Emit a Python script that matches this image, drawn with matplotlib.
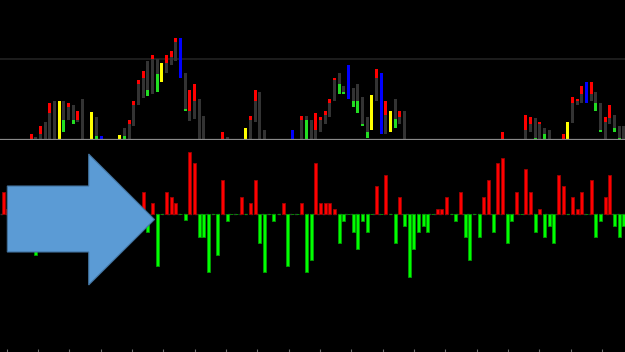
import matplotlib
matplotlib.use("Agg")
import matplotlib.pyplot as plt
import numpy as np
from matplotlib.patches import Polygon

# top panel: only the bars that are drawn (index, high, low, colour code, coloured length)
top_idx = [6, 7, 8, 9, 10, 11, 12, 13, 14, 15, 16, 17, 18, 19, 20, 21, 24, 25, 26, 27,
           28, 29, 30, 31, 32, 33, 34, 35, 36, 37, 38, 39, 40, 41, 42, 43, 47, 48, 52, 53,
           54, 55, 56, 60, 61, 62, 64, 65, 66, 67, 68, 69, 70, 71, 72, 73, 74, 75, 76, 77,
           78, 79, 80, 81, 82, 83, 84, 85, 86, 107, 112, 113, 114, 115, 116, 117, 120, 121, 122, 123,
           124, 125, 126, 127, 128, 129, 130, 131, 132, 133]
top_hi = [6.3, 2.7, 14, 18, 37, 39, 39, 39, 37, 35, 29, 41, 1, 27.7, 23.3, 4, 1, 4.7, 12, 20,
          39, 60, 69.3, 79, 84.7, 81, 77, 84.7, 88.7, 102, 102, 67.3, 50, 56, 41, 23.7, 8, 2.7, 12, 23.7,
          50, 48.3, 10, 1, 0.7, 10, 23.7, 23.7, 20, 27.3, 23.3, 29, 40.7, 62, 67.3, 54, 75, 52, 56, 43,
          23.3, 44.7, 71.3, 67.3, 39, 29, 41, 29, 29, 8, 25.3, 23.3, 21.7, 18, 12, 10, 6, 18, 43, 41,
          54, 58, 58, 48.3, 37, 23.3, 35, 25.3, 14, 14]
top_lo = [0, 0, 0, 0, 0, 0, 0, 8, 20, 15.7, 18, 0, 0, 0, 0, 0, 0, 0, 0, 0,
          14, 35, 42, 44, 46, 48, 57.7, 67.3, 75, 79, 61.7, 29, 19.3, 21.3, 0, 0, 0, 0, 0, 0,
          18, 0, 0, 0, 0, 0, 0, 0, 0, 0, 8, 16, 23.3, 39, 46, 46, 40.7, 33, 27, 14,
          2, 10, 39, 6, 6, 8, 12, 16, 0, 0, 0, 8, 0, 0, 0, 0, 0, 0, 17.3, 35,
          37, 37, 39, 29, 8, 0, 16, 8, 0, 0]
top_col = ["r", "", "r", "", "r", "", "y", "g", "r", "g", "r", "", "r", "y", "g", "b", "r", "y", "g", "r",
           "r", "r", "r", "g", "r", "g", "y", "r", "r", "r", "b", "g", "r", "r", "", "", "r", "", "y", "r",
           "r", "g", "", "r", "", "b", "r", "g", "g", "r", "r", "r", "r", "r", "g", "g", "b", "g", "g", "g",
           "g", "y", "r", "b", "r", "y", "g", "r", "", "r", "r", "r", "g", "r", "g", "", "r", "y", "r", "r",
           "r", "b", "r", "g", "g", "r", "r", "g", "g", ""]
top_seg = [6.3, 0, 7.7, 0, 10, 0, 0, 12, 4, 4.3, 9, 0, 1, 0, 4, 0, 1, 0, 4, 4,
           4, 4, 7.3, 6, 4, 17.7, 0, 7.7, 6, 4, 0, 2, 21, 17, 0, 0, 8, 0, 0, 3.7,
           11, 1, 0, 1, 0, 0, 3.7, 20, 1, 17.3, 3.3, 4, 3.7, 2, 10, 2, 0, 6, 12, 2,
           6, 0, 9.3, 0, 14, 0, 9.3, 5.7, 0, 8, 15.3, 7.3, 2, 2, 6, 0, 6, 0, 6, 2,
           8, 0, 12, 8, 2, 5.3, 13.3, 4, 2, 0]
top_level = 80.7

# bottom panel histogram, one value per bar (0..133)
hist_vals = [22.3, 5, 0, 0, 0, 0, 0, -41, 0, 0,
             0, 0, 0, 0, 0, 0, 0, 0, 0, 0,
             0, 0, 0, 0, 0, 0, 0, 0, 0, 0,
             22.3, -17.7, 10.7, -52, 0, 22.3, 16.7, 11, 0, -6,
             62, 50.7, -23.3, -23.3, -57.7, 0, -41, 34, -6.7, 0,
             0, 16.7, 0, 11, 34, -29.3, -57.7, 0, -6.7, 0,
             11, -52, 0, 0, 11, -57.7, -46, 50.7, 11, 11,
             11, 5, -29.3, -6.7, 0, -17.7, -35, -6.7, -17.7, 0,
             28, 0, 39.3, 0, -29.3, 16.7, -12, -62.7, -35, -17.7,
             -12, -17.7, 0, 5, 5, 16.7, 0, -6.7, 22.3, -23.3,
             -46, 0, -23.3, 16.7, 34, -17.7, 50.7, 56.3, -29.3, -6.7,
             22.3, 0, 45, 22.3, -17.7, 5, -23.3, -12, -29.3, 39.3,
             28, 0, 16.7, 5, 22.3, 0, 34, -23.3, -6.7, 16.7,
             39.3, -12, -23.3, -12]

colors = {"r": "#ff0000", "g": "#22dd22", "y": "#ffff00", "b": "#0000ff", "": "#333333"}
W, H = 625, 352
bar_w = 0.64
x_lim = (-0.686, 133.24)

fig = plt.figure(figsize=(W / 100, H / 100), dpi=100, facecolor="black")
ax_top = fig.add_axes([0, 1 - 140 / H, 1, 140 / H], facecolor="black")
ax_bot = fig.add_axes([0, 0, 1, 1 - 140 / H], facecolor="black")

# --- top panel ---
for i, hi, lo, c, seg in zip(top_idx, top_hi, top_lo, top_col, top_seg):
    if c in ("y", "b"):
        ax_top.bar(i, hi - lo, bottom=lo, width=bar_w, color=colors[c], zorder=3)
        continue
    ax_top.bar(i, hi - lo, bottom=lo, width=bar_w, color="#333333", zorder=3)
    if c == "r":
        ax_top.bar(i, seg, bottom=hi - seg, width=bar_w, color=colors["r"], zorder=4)
    elif c == "g":
        ax_top.bar(i, seg, bottom=lo, width=bar_w, color=colors["g"], zorder=4)

ax_top.axhline(top_level, color="#222222", lw=1.2, zorder=1)
ax_top.axhline(0, color="#8a8a8a", lw=1.6, zorder=5)
ax_top.set_xlim(*x_lim)
ax_top.set_ylim(0, 140)

# --- bottom panel ---
vals = np.array(hist_vals)
xs = np.arange(len(vals))
up = vals > 0
ax_bot.bar(xs[up], vals[up], width=bar_w, color="#ff0000", edgecolor="#a00000", lw=0.6, zorder=3)
ax_bot.bar(xs[~up], vals[~up], width=bar_w, color="#00ff00", edgecolor="#00a000", lw=0.6, zorder=3)
ax_bot.axhline(0, color="#333333", lw=1, ls=(0, (2, 2)), zorder=2)
ax_bot.set_xlim(*x_lim)
ax_bot.set_ylim(-138, 74)

for ax in (ax_top, ax_bot):
    for s in ax.spines.values():
        s.set_visible(False)
    ax.set_yticks([])
ax_top.set_xticks([])
ax_bot.set_xticks(np.arange(0.75, 134, 6.714))
ax_bot.tick_params(axis="x", direction="in", length=2, color="#707070", labelbottom=False, pad=0)

# big blue arrow drawn over the left part
arrow_px = [(7.3, 186), (88.7, 186), (88.7, 154), (154.5, 219.5), (88.7, 285), (88.7, 252), (7.3, 252)]
arrow = Polygon([(x / W, 1 - y / H) for x, y in arrow_px], closed=True,
                facecolor="#5b9bd5", edgecolor="#41719c", lw=0.8, transform=fig.transFigure, zorder=10)
fig.add_artist(arrow)

fig.savefig("out.png", dpi=100, facecolor="black")
